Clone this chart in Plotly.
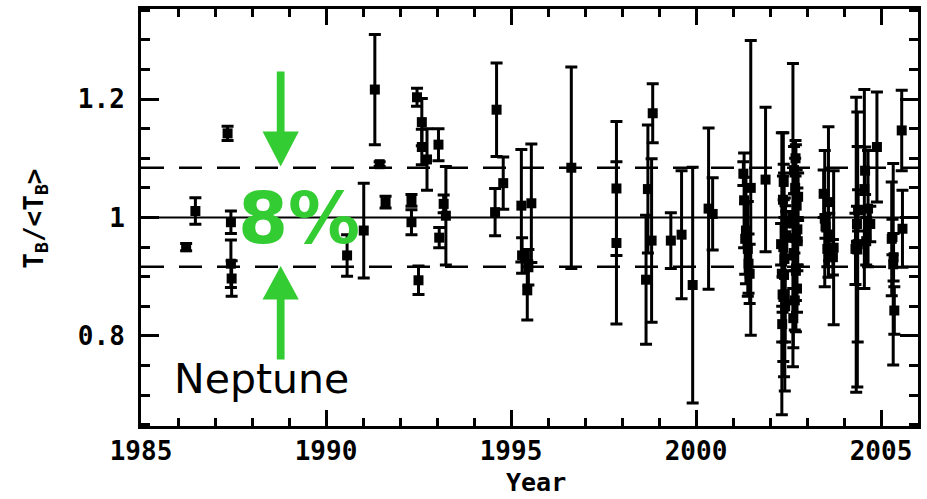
import plotly.graph_objects as go

# ---- data ----
years = [
    1986.22, 1986.47, 1987.34, 1987.43, 1987.43, 1987.45,
    1990.57, 1991.02, 1991.32, 1991.45, 1991.61,
    1992.31, 1992.31, 1992.46, 1992.50, 1992.59, 1992.59, 1992.73,
    1993.04, 1993.06, 1993.18, 1993.24,
    1994.57, 1994.61, 1994.79,
    1995.28, 1995.30, 1995.44, 1995.47, 1995.55,
    1996.63, 1997.85, 1997.85,
    1998.65, 1998.70, 1998.80, 1998.83,
    1999.32, 1999.61, 1999.91, 2000.34, 2000.45,
    2001.28, 2001.30, 2001.33, 2001.35, 2001.40, 2001.42, 2001.45, 2001.48,
    2001.88,
    2002.30, 2002.32, 2002.34, 2002.36, 2002.38, 2002.40, 2002.42, 2002.44,
    2002.35, 2002.33, 2002.37, 2002.39, 2002.41,
    2002.62, 2002.70, 2002.65, 2002.68, 2002.72, 2002.66, 2002.75, 2002.64,
    2002.70, 2002.73, 2002.67, 2002.76, 2002.63, 2002.69, 2002.74,
    2003.45, 2003.48, 2003.58, 2003.72, 2003.60, 2003.55, 2003.70, 2003.50,
    2004.31, 2004.33, 2004.35, 2004.36, 2004.37, 2004.38, 2004.55, 2004.57,
    2004.60, 2004.65, 2004.71, 2004.89,
    2005.29, 2005.31, 2005.33, 2005.36, 2005.34, 2005.56, 2005.58,
]
ratio = [
    0.950, 1.011, 1.142, 0.992, 0.922, 0.897,
    0.936, 0.978, 1.216, 1.090, 1.026,
    1.029, 0.992, 1.203, 0.894, 1.161, 1.119, 1.098,
    1.123, 0.966, 1.023, 1.003,
    1.009, 1.182, 1.058,
    1.020, 0.936, 0.877, 0.916, 1.024,
    1.084, 1.049, 0.957,
    0.895, 1.048, 0.961, 1.176,
    0.961, 0.971, 0.886, 1.015, 1.006,
    1.074, 1.029, 0.964, 0.978, 0.947, 0.922, 0.905, 1.050,
    1.064,
    0.955, 0.905, 0.870, 0.950, 0.903, 0.870, 0.990, 0.970,
    1.030, 0.820, 1.060, 0.930, 0.850,
    1.004, 0.965, 1.080, 1.050, 1.020, 0.990, 0.960, 0.940,
    0.910, 0.880, 0.860, 1.035, 0.830, 1.100, 0.980,
    1.040, 0.998, 1.026, 0.949, 0.967, 0.947, 0.933, 0.985,
    0.947, 0.954, 0.989, 0.946, 0.955, 1.012, 1.048, 1.079,
    0.960, 1.015, 0.989, 1.119,
    0.964, 0.967, 0.921, 0.843, 0.933, 1.147, 0.981,
]
err = [
    0.006, 0.0225, 0.012, 0.019, 0.040, 0.030,
    0.035, 0.080, 0.093, 0.004, 0.010,
    0.010, 0.021, 0.015, 0.024, 0.040, 0.030, 0.052,
    0.027, 0.017, 0.015, 0.083,
    0.040, 0.079, 0.044,
    0.095, 0.030, 0.050, 0.030, 0.100,
    0.170, 0.113, 0.137,
    0.109, 0.108, 0.138, 0.050,
    0.047, 0.108, 0.199, 0.136, 0.061,
    0.020, 0.080, 0.060, 0.090, 0.080, 0.050, 0.050, 0.249,
    0.122,
    0.035, 0.238, 0.030, 0.193, 0.172, 0.163, 0.030, 0.040,
    0.040, 0.030, 0.030, 0.070, 0.060,
    0.256, 0.158, 0.040, 0.050, 0.060, 0.050, 0.040, 0.060,
    0.050, 0.040, 0.050, 0.040, 0.050, 0.030, 0.070,
    0.040, 0.115, 0.127, 0.130, 0.040, 0.030, 0.030, 0.020,
    0.060, 0.249, 0.030, 0.232, 0.165, 0.035, 0.168, 0.040,
    0.040, 0.098, 0.030, 0.093,
    0.096, 0.030, 0.170, 0.040, 0.040, 0.068, 0.065,
]

x_tick_vals = [1985, 1990, 1995, 2000, 2005]
x_tick_labels = ["1985", "1990", "1995", "2000", "2005"]
y_tick_vals = [0.8, 1.0, 1.2]
y_tick_labels = ["0.8", "1", "1.2"]

MEAN = 1.0
BAND_HI = 1.084
BAND_LO = 0.917

GREEN = "#33CC33"
TICKFONT = dict(family="DejaVu Sans Mono", size=26, color="black", weight="bold")

fig = go.Figure()
fig.add_trace(go.Scatter(
    x=years, y=ratio, mode="markers",
    marker=dict(symbol="square", size=10, color="black", line=dict(width=0)),
    error_y=dict(type="data", array=err, visible=True, color="black",
                 thickness=3, width=6),
    showlegend=False,
))

shapes = [
    dict(type="line", xref="paper", yref="y", x0=0, x1=1, y0=MEAN, y1=MEAN,
         line=dict(color="black", width=2), layer="below"),
    dict(type="line", xref="paper", yref="y", x0=0, x1=1, y0=BAND_HI, y1=BAND_HI,
         line=dict(color="black", width=2.5, dash="23px,15px"), layer="below"),
    dict(type="line", xref="paper", yref="y", x0=0, x1=1, y0=BAND_LO, y1=BAND_LO,
         line=dict(color="black", width=2.5, dash="23px,15px"), layer="below"),
]

# green arrows (annotation graphics)
ax = 1988.775
sh = 0.105   # shaft half width (years)
hh = 0.49    # head half width (years)
down = (f"M {ax-sh},1.2464 L {ax+sh},1.2464 L {ax+sh},1.145 L {ax+hh},1.145 "
        f"L {ax},{BAND_HI+0.002} L {ax-hh},1.145 L {ax-sh},1.145 Z")
up = (f"M {ax-sh},0.7603 L {ax+sh},0.7603 L {ax+sh},0.8616 L {ax+hh},0.8616 "
      f"L {ax},{BAND_LO+0.001} L {ax-hh},0.8616 L {ax-sh},0.8616 Z")
for p in (down, up):
    shapes.append(dict(type="path", xref="x", yref="y", path=p,
                       fillcolor=GREEN, line=dict(width=0), layer="above"))

annotations = [
    dict(text="<b>8%</b>", x=1989.27, y=1.0, xref="x", yref="y", showarrow=False,
         xanchor="center", yanchor="middle",
         font=dict(family="DejaVu Sans", size=72, color=GREEN)),
    dict(text="Neptune", x=1985.85, y=0.728, xref="x", yref="y", showarrow=False,
         xanchor="left", yanchor="middle",
         font=dict(family="DejaVu Sans", size=41, color="black")),
    dict(text="Year", x=0.508, y=-0.136, xref="paper", yref="paper", showarrow=False,
         xanchor="center", yanchor="middle",
         font=dict(family="DejaVu Sans Mono", size=25, color="black", weight="bold")),
    dict(text="T<sub>B</sub>/&lt;T<sub>B</sub>&gt;", x=-0.136, y=0.498,
         xref="paper", yref="paper", showarrow=False, textangle=-90,
         xanchor="center", yanchor="middle",
         font=dict(family="DejaVu Sans Mono", size=26, color="black", weight="bold")),
]

axis_common = dict(
    showgrid=False, zeroline=False, showline=True, linewidth=3, linecolor="black",
    mirror="allticks", ticks="inside", tickwidth=3, tickcolor="black",
    tickfont=TICKFONT,
)

fig.update_layout(
    width=927, height=499,
    margin=dict(l=141, r=6, t=8, b=73),
    paper_bgcolor="white", plot_bgcolor="white",
    showlegend=False,
    shapes=shapes, annotations=annotations,
    xaxis=dict(range=[1985, 2006], tickmode="array", tickvals=x_tick_vals,
               ticktext=x_tick_labels, ticklen=16,
               minor=dict(tickmode="linear", tick0=1985, dtick=1, ticks="inside",
                          ticklen=8, tickwidth=3, tickcolor="black"),
               **axis_common),
    yaxis=dict(range=[0.648, 1.352], tickmode="array", tickvals=y_tick_vals,
               ticktext=y_tick_labels, ticklen=18, ticklabelstandoff=8,
               minor=dict(tickmode="linear", tick0=0.8, dtick=0.05, ticks="inside",
                          ticklen=9, tickwidth=3, tickcolor="black"),
               **axis_common),
)

fig.write_html("out.html")
